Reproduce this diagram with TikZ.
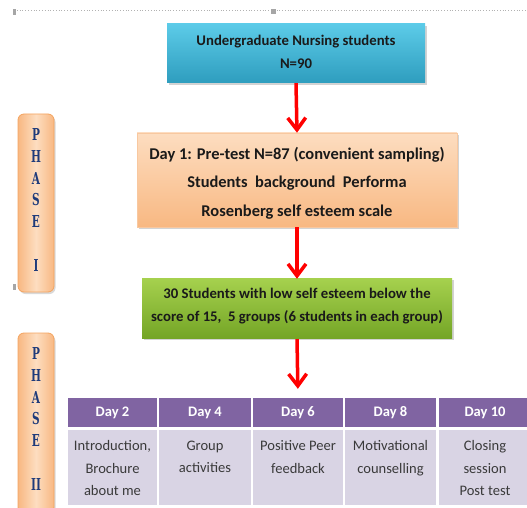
\documentclass[tikz,border=0pt]{standalone}
\usepackage{fontspec}
\setmainfont{Carlito}
\newfontfamily\phfont[FakeStretch=0.64]{DejaVu Serif}
\usetikzlibrary{arrows.meta,shadows}
\definecolor{cyanT}{HTML}{5CCBE8}
\definecolor{cyanB}{HTML}{2E9DBE}
\definecolor{orT}{HTML}{FDDDC0}
\definecolor{orB}{HTML}{F8B882}
\definecolor{orEdge}{HTML}{F4A460}
\definecolor{grT}{HTML}{A6D14E}
\definecolor{grB}{HTML}{74A526}
\definecolor{purp}{HTML}{8064A2}
\definecolor{lav}{HTML}{D9D4E4}
\definecolor{arrowred}{HTML}{FF0000}
\definecolor{phblue}{HTML}{1F3B7A}
\definecolor{txt}{HTML}{1A1A1A}
\definecolor{bodytxt}{HTML}{3A3A3A}
\begin{document}
\begin{tikzpicture}[x=1bp,y=-1bp,
  box/.style={inner sep=0pt, drop shadow={shadow xshift=1.5bp,shadow yshift=-2bp,opacity=0.35}},
  boxtext/.style={inner sep=0pt, align=center, text=txt},
  redarrow/.style={draw=arrowred, line width=3.5bp, -{Straight Barb[length=12bp,width=18bp,line width=3.5bp]}},
  phasebox/.style={rounded corners=6bp, draw=orEdge, line width=0.8bp, left color=orB, right color=orB, middle color=orT, drop shadow={shadow xshift=1.5bp,shadow yshift=-2bp,opacity=0.3}},
  phasetext/.style={align=center, text=phblue, font=\phfont\bfseries\fontsize{16.5}{21.8}\selectfont},
  hdr/.style={fill=purp, text=white, inner sep=0pt, minimum height=29bp, font=\bfseries\fontsize{14.6}{17}\selectfont},
  cell/.style={fill=lav, inner sep=0pt, minimum height=75bp, anchor=north},
  celltext/.style={text=bodytxt, inner sep=0pt, align=center, anchor=north, font=\fontsize{14.6}{22.5}\selectfont},
  handle/.style={fill=gray!70, draw=none}
]
\useasboundingbox (0,0) rectangle (527,508);
% selection frame of the original screenshot
\draw[gray!60, dotted, line width=0.8bp] (14,10) -- (527,10);
\fill[handle] (12.5,9.5) rectangle (15.5,15);
\fill[handle] (271,9.5) rectangle (276,14.5);
\fill[handle] (12.5,284) rectangle (15.5,290);

% main flow boxes
\node[box, minimum width=258bp, minimum height=59bp, top color=cyanT, bottom color=cyanB] (top) at (296,53.5) {};
\node[boxtext, font=\bfseries\fontsize{14.8}{23}\selectfont] (topt) at (296,52)
      {Undergraduate Nursing students\\N=90};
\node[box, minimum width=320bp, minimum height=94bp, top color=orT, bottom color=orB, draw=orEdge!60, line width=0.6bp] (day1) at (297,180) {};
\node[boxtext, font=\bfseries\fontsize{16.5}{28.5}\selectfont] (day1t) at (297,183)
      {Day 1: Pre-test N=87 (convenient sampling)\\Students\ \ background\ \ Performa\\Rosenberg self esteem scale};
\node[box, minimum width=310bp, minimum height=60bp, top color=grT, bottom color=grB] (grp) at (297,308) {};
\node[boxtext, font=\bfseries\fontsize{14.8}{23}\selectfont] (grpt) at (297,306)
      {30 Students with low self esteem below the\\score of 15,\ \ 5 groups (6 students in each group)};

% table header
\node[hdr, minimum width=89bp] (h2) at (112.5,412.5) {Day 2};
\node[hdr, minimum width=92bp] (h4) at (205,412.5) {Day 4};
\node[hdr, minimum width=90bp] (h6) at (298,412.5) {Day 6};
\node[hdr, minimum width=91bp] (h8) at (390.5,412.5) {Day 8};
\node[hdr, minimum width=92bp] (h10) at (485,412.5) {Day 10};

% table body
\node[cell, minimum width=89bp] (c2) at (112.5,430) {};
\node[cell, minimum width=92bp] (c4) at (205,430) {};
\node[cell, minimum width=90bp] (c6) at (298,430) {};
\node[cell, minimum width=91bp] (c8) at (390.5,430) {};
\node[cell, minimum width=92bp] (c10) at (485,430) {};
\node[celltext] (t2) at (112.5,440.5) {Introduction,\\Brochure\\about me};
\node[celltext] (t4) at (205,440.5) {Group\\activities};
\node[celltext] (t6) at (298,440.5) {Positive Peer\\feedback};
\node[celltext] (t8) at (390.5,440.5) {Motivational\\counselling};
\node[celltext] (t10) at (485,440.5) {Closing\\session\\Post test};

% arrows
\draw[redarrow] (top.south) -- (day1.north);
\draw[redarrow] (day1.south) -- ([yshift=-1bp]grp.north);
\draw[redarrow, shorten <=1bp, shorten >=9bp] (grp.south) -- (h6.north);

% phase labels
\node[phasebox, minimum width=36bp, minimum height=178bp, inner sep=0pt] (ph1) at (36,203) {};
\node[phasetext] (ph1t) at (36,200) {P\\H\\A\\S\\E\\[22bp]I};
\node[phasebox, minimum width=36bp, minimum height=180bp, inner sep=0pt] (ph2) at (36,423) {};
\node[phasetext] (ph2t) at (36,419) {P\\H\\A\\S\\E\\[22bp]II};
\end{tikzpicture}
\end{document}
